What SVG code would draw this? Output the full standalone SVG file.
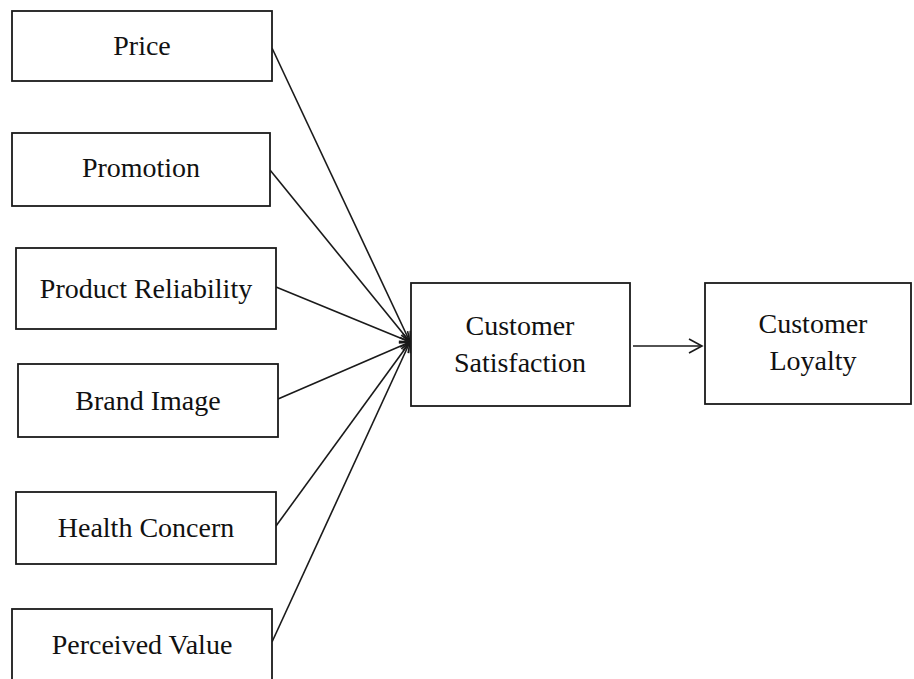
<svg xmlns="http://www.w3.org/2000/svg" width="914" height="679" viewBox="0 0 914 679">
  <style>
    .box { fill: #fff; stroke: #1a1a1a; stroke-width: 1.8; }
    .lbl { font-family: "Liberation Serif", "Times New Roman", serif; font-size: 28px; fill: #111; text-anchor: middle; }
    .edge { stroke: #1a1a1a; stroke-width: 1.6; fill: none; }
  </style>
  <defs>
    <marker id="arrow" markerWidth="16" markerHeight="18" refX="14" refY="8" orient="auto" markerUnits="userSpaceOnUse">
      <path d="M1,1 L14,8 L1,15" fill="none" stroke="#1a1a1a" stroke-width="1.6"/>
    </marker>
    <marker id="arrowSmall" markerWidth="14" markerHeight="14" refX="11" refY="6" orient="auto" markerUnits="userSpaceOnUse">
      <path d="M1,1 L11,6 L1,11" fill="none" stroke="#1a1a1a" stroke-width="1.6"/>
    </marker>
  </defs>
  <rect width="914" height="679" fill="#fff"/>

  <g id="connectors">
    <line class="edge" x1="272" y1="48" x2="410" y2="342" marker-end="url(#arrowSmall)"/>
    <line class="edge" x1="270" y1="170" x2="410" y2="342" marker-end="url(#arrowSmall)"/>
    <line class="edge" x1="276" y1="287" x2="410" y2="342" marker-end="url(#arrowSmall)"/>
    <line class="edge" x1="278" y1="399" x2="410" y2="342" marker-end="url(#arrowSmall)"/>
    <line class="edge" x1="276" y1="526" x2="410" y2="342" marker-end="url(#arrowSmall)"/>
    <line class="edge" x1="272" y1="642" x2="410" y2="342" marker-end="url(#arrowSmall)"/>
    <line class="edge" x1="633" y1="346" x2="702" y2="346" marker-end="url(#arrow)"/>
  </g>

  <g id="price">
    <rect class="box" x="12" y="11" width="260" height="70"/>
    <text class="lbl" x="142" y="55">Price</text>
  </g>
  <g id="promotion">
    <rect class="box" x="12" y="133" width="258" height="73"/>
    <text class="lbl" x="141" y="177">Promotion</text>
  </g>
  <g id="product-reliability">
    <rect class="box" x="16" y="248" width="260" height="81"/>
    <text class="lbl" x="146" y="298">Product Reliability</text>
  </g>
  <g id="brand-image">
    <rect class="box" x="18" y="364" width="260" height="73"/>
    <text class="lbl" x="148" y="410">Brand Image</text>
  </g>
  <g id="health-concern">
    <rect class="box" x="16" y="492" width="260" height="72"/>
    <text class="lbl" x="146" y="537">Health Concern</text>
  </g>
  <g id="perceived-value">
    <rect class="box" x="12" y="609" width="260" height="90"/>
    <text class="lbl" x="142" y="654">Perceived Value</text>
  </g>
  <g id="customer-satisfaction">
    <rect class="box" x="411" y="283" width="219" height="123"/>
    <text class="lbl" x="520" y="335">Customer</text>
    <text class="lbl" x="520" y="372">Satisfaction</text>
  </g>
  <g id="customer-loyalty">
    <rect class="box" x="705" y="283" width="206" height="121"/>
    <text class="lbl" x="813" y="333">Customer</text>
    <text class="lbl" x="813" y="370">Loyalty</text>
  </g>
</svg>
